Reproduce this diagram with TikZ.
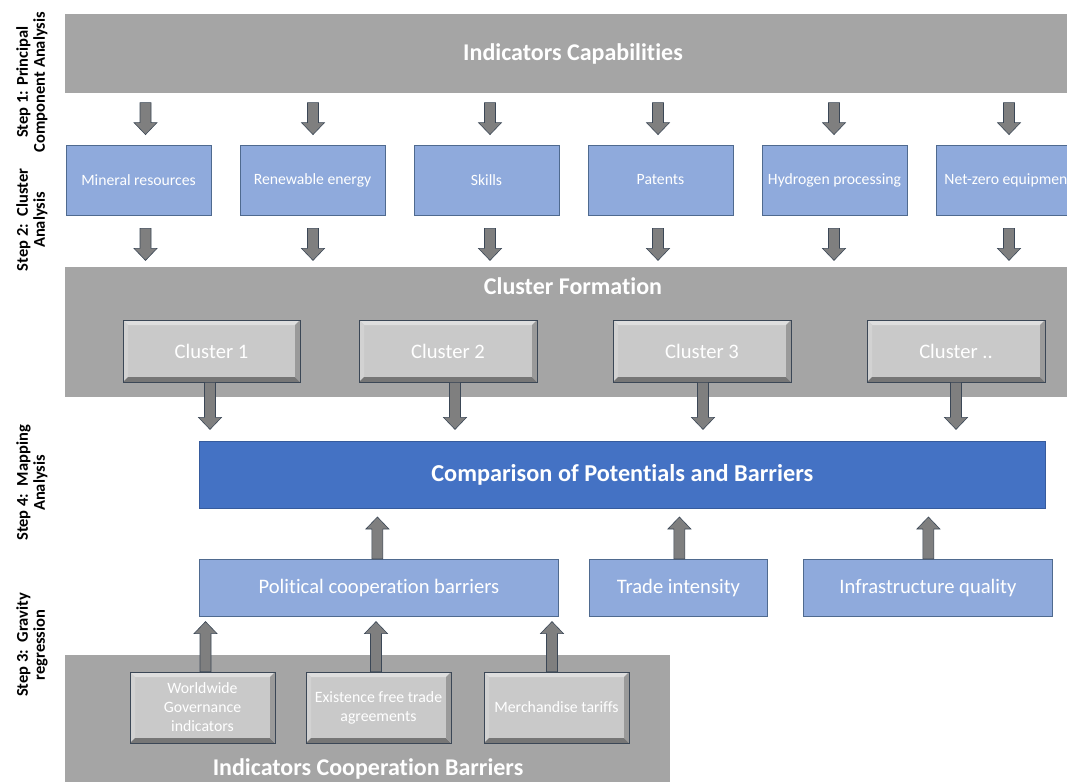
\documentclass[tikz,border=0pt]{standalone}
\usepackage{fontspec}
\setmainfont[Ligatures=NoCommon]{Carlito}
\usetikzlibrary{calc}
\definecolor{bandgray}{HTML}{A5A5A5}
\definecolor{boxblue}{HTML}{8FAADC}
\definecolor{boxedge}{HTML}{4F6A8F}
\definecolor{darkblue}{HTML}{4472C4}
\definecolor{arrowgray}{HTML}{7F7F7F}
\definecolor{arrowedge}{HTML}{3B4756}
\definecolor{bevelface}{HTML}{C9C9C9}
\definecolor{beveltop}{HTML}{DEDEDE}
\definecolor{bevelleft}{HTML}{D2D2D2}
\definecolor{bevelbottom}{HTML}{767676}
\definecolor{bevelright}{HTML}{9A9A9A}
\newcommand\blockarrow[2]{%
  \draw[barrow] let \p1=#1, \p2=#2, \n1={sign(\y2-\y1)} in
    (\x1-5.5pt,\y1) -- (\x1-5.5pt,{\y2-12pt*\n1}) -- (\x1-11.5pt,{\y2-12pt*\n1})
    -- (\x1,\y2) -- (\x1+11.5pt,{\y2-12pt*\n1}) -- (\x1+5.5pt,{\y2-12pt*\n1})
    -- (\x1+5.5pt,\y1) -- cycle;}
\begin{document}
\begin{tikzpicture}[x=1pt,y=-1pt,
  band/.style={fill=bandgray, draw=none, anchor=north west, inner sep=0pt},
  bandtitle/.style={text=white, font=\fontsize{24}{28}\selectfont\bfseries},
  bluebox/.style={fill=boxblue, draw=boxedge, line width=0.8pt, text=white,
    minimum height=70pt, minimum width=145pt, inner sep=0pt,
    font=\fontsize{15.7}{18}\selectfont},
  midbox/.style={fill=boxblue, draw=boxedge, line width=0.8pt, text=white,
    minimum height=57pt, inner sep=0pt, anchor=north west,
    font=\fontsize{20.6}{24}\selectfont},
  barrow/.style={fill=arrowgray, draw=arrowedge, line width=0.6pt},
  bevelbox/.style={fill=bevelface, draw=arrowedge, line width=0.8pt, text=white,
    inner sep=0pt, align=center,
    path picture={
      \coordinate (NW) at (path picture bounding box.north west);
      \coordinate (NE) at (path picture bounding box.north east);
      \coordinate (SW) at (path picture bounding box.south west);
      \coordinate (SE) at (path picture bounding box.south east);
      \fill[beveltop] (NW) -- (NE) -- ($(NE)+(-5pt,-5pt)$) -- ($(NW)+(5pt,-5pt)$) -- cycle;
      \fill[bevelleft] (NW) -- ($(NW)+(5pt,-5pt)$) -- ($(SW)+(5pt,5pt)$) -- (SW) -- cycle;
      \fill[bevelbottom] (SW) -- (SE) -- ($(SE)+(-5pt,5pt)$) -- ($(SW)+(5pt,5pt)$) -- cycle;
      \fill[bevelright] (NE) -- (SE) -- ($(SE)+(-5pt,5pt)$) -- ($(NE)+(-5pt,-5pt)$) -- cycle;
    }},
  clusterbox/.style={bevelbox, minimum width=178pt, minimum height=62pt,
    font=\fontsize{20.6}{24}\selectfont},
  barrierbox/.style={bevelbox, minimum width=145pt, minimum height=71pt,
    font=\fontsize{15.8}{19}\selectfont},
  steplabel/.style={rotate=90, align=center, font=\fontsize{16.5}{17}\selectfont\bfseries}
]
\useasboundingbox (0,0) rectangle (1067,781);
\fill[white] (0,0) rectangle (1067,781);

% step labels
\node[steplabel] (s1) at (32,82) {Step 1: Principal\\Component Analysis};
\node[steplabel] (s2) at (32,220) {Step 2:\ \ Cluster\\Analysis};
\node[steplabel] (s4) at (32,483) {Step 4:\ \ Mapping\\Analysis};
\node[steplabel] (s3) at (32,645) {Step 3:\ \ Gravity\\regression};

% top band
\node[band, minimum width=1016pt, minimum height=79pt] (cap) at (65,14) {};
\node[bandtitle] (capt) at (573,54) {Indicators Capabilities};

% capability boxes
\node[bluebox] (m1) at (138.5,180) {Mineral resources};
\node[bluebox] (m2) at (312.5,180) {Renewable energy};
\node[bluebox] (m3) at (486.5,180) {Skills};
\node[bluebox] (m4) at (660.5,180) {Patents};
\node[bluebox] (m5) at (834.5,180) {Hydrogen processing};
\node[bluebox] (m6) at (1008.5,180) {Net-zero equipment};

% cluster band
\node[band, minimum width=1016pt, minimum height=130pt] (cf) at (65,267) {};
\node[bandtitle] (cft) at (573,286) {Cluster Formation};

\node[clusterbox, minimum width=177pt] (c1) at (211.5,351) {Cluster 1};
\node[clusterbox] (c2) at (448,351) {Cluster 2};
\node[clusterbox] (c3) at (702,351) {Cluster 3};
\node[clusterbox] (c4) at (956,351) {Cluster ..};

% arrows step 1
\foreach \m/\dx in {m1/7,m2/0.5,m3/3.5,m4/-2.5,m5/-0.5,m6/0.5}{
  \blockarrow{($(\m.north)+(\dx,-42)$)}{($(\m.north)+(\dx,-10)$)}
  \blockarrow{($(\m.south)+(\dx,13)$)}{($(\m.south)+(\dx,45)$)}
}

% comparison box
\node[fill=darkblue, draw=darkblue!80!black, line width=0.6pt, anchor=north west,
  minimum width=846pt, minimum height=67pt, inner sep=0pt, text=white,
  font=\fontsize{24.3}{28}\selectfont\bfseries] (cmp) at (199,441) {Comparison of Potentials and Barriers};

% cluster arrows
\foreach \c/\dx in {c1/-1.5,c2/7,c3/1,c4/0}{
  \blockarrow{($(\c.south)+(\dx,0)$)}{($(\c.south)+(\dx,47)$)}
}

% barrier boxes
\node[midbox, minimum width=359pt] (pol) at (199,559) {Political cooperation barriers};
\node[midbox, minimum width=178pt] (trd) at (589,559) {Trade intensity};
\node[midbox, minimum width=249pt] (inf) at (803,559) {Infrastructure quality};

\blockarrow{($(pol.north)+(-1.5,0)$)}{($(pol.north)+(-1.5,-42)$)}
\blockarrow{($(trd.north)+(1,0)$)}{($(trd.north)+(1,-42)$)}
\blockarrow{($(inf.north)+(0.5,0)$)}{($(inf.north)+(0.5,-42)$)}

% bottom band
\node[band, minimum width=605pt, minimum height=140pt] (icb) at (65,655) {};
\node[bandtitle] (icbt) at (368,769) {Indicators Cooperation Barriers};

\node[barrierbox] (b1) at (202.5,707.5) {Worldwide\\Governance\\indicators};
\node[barrierbox] (b2) at (378.5,707.5) {Existence free trade\\agreements};
\node[barrierbox] (b3) at (556.5,707.5) {Merchandise tariffs};

\blockarrow{($(b1.north)+(3,0)$)}{($(b1.north)+(3,-50)$)}
\blockarrow{($(b2.north)+(-2.5,0)$)}{($(b2.north)+(-2.5,-50)$)}
\blockarrow{($(b3.north)+(-4.5,0)$)}{($(b3.north)+(-4.5,-50)$)}
\end{tikzpicture}
\end{document}
